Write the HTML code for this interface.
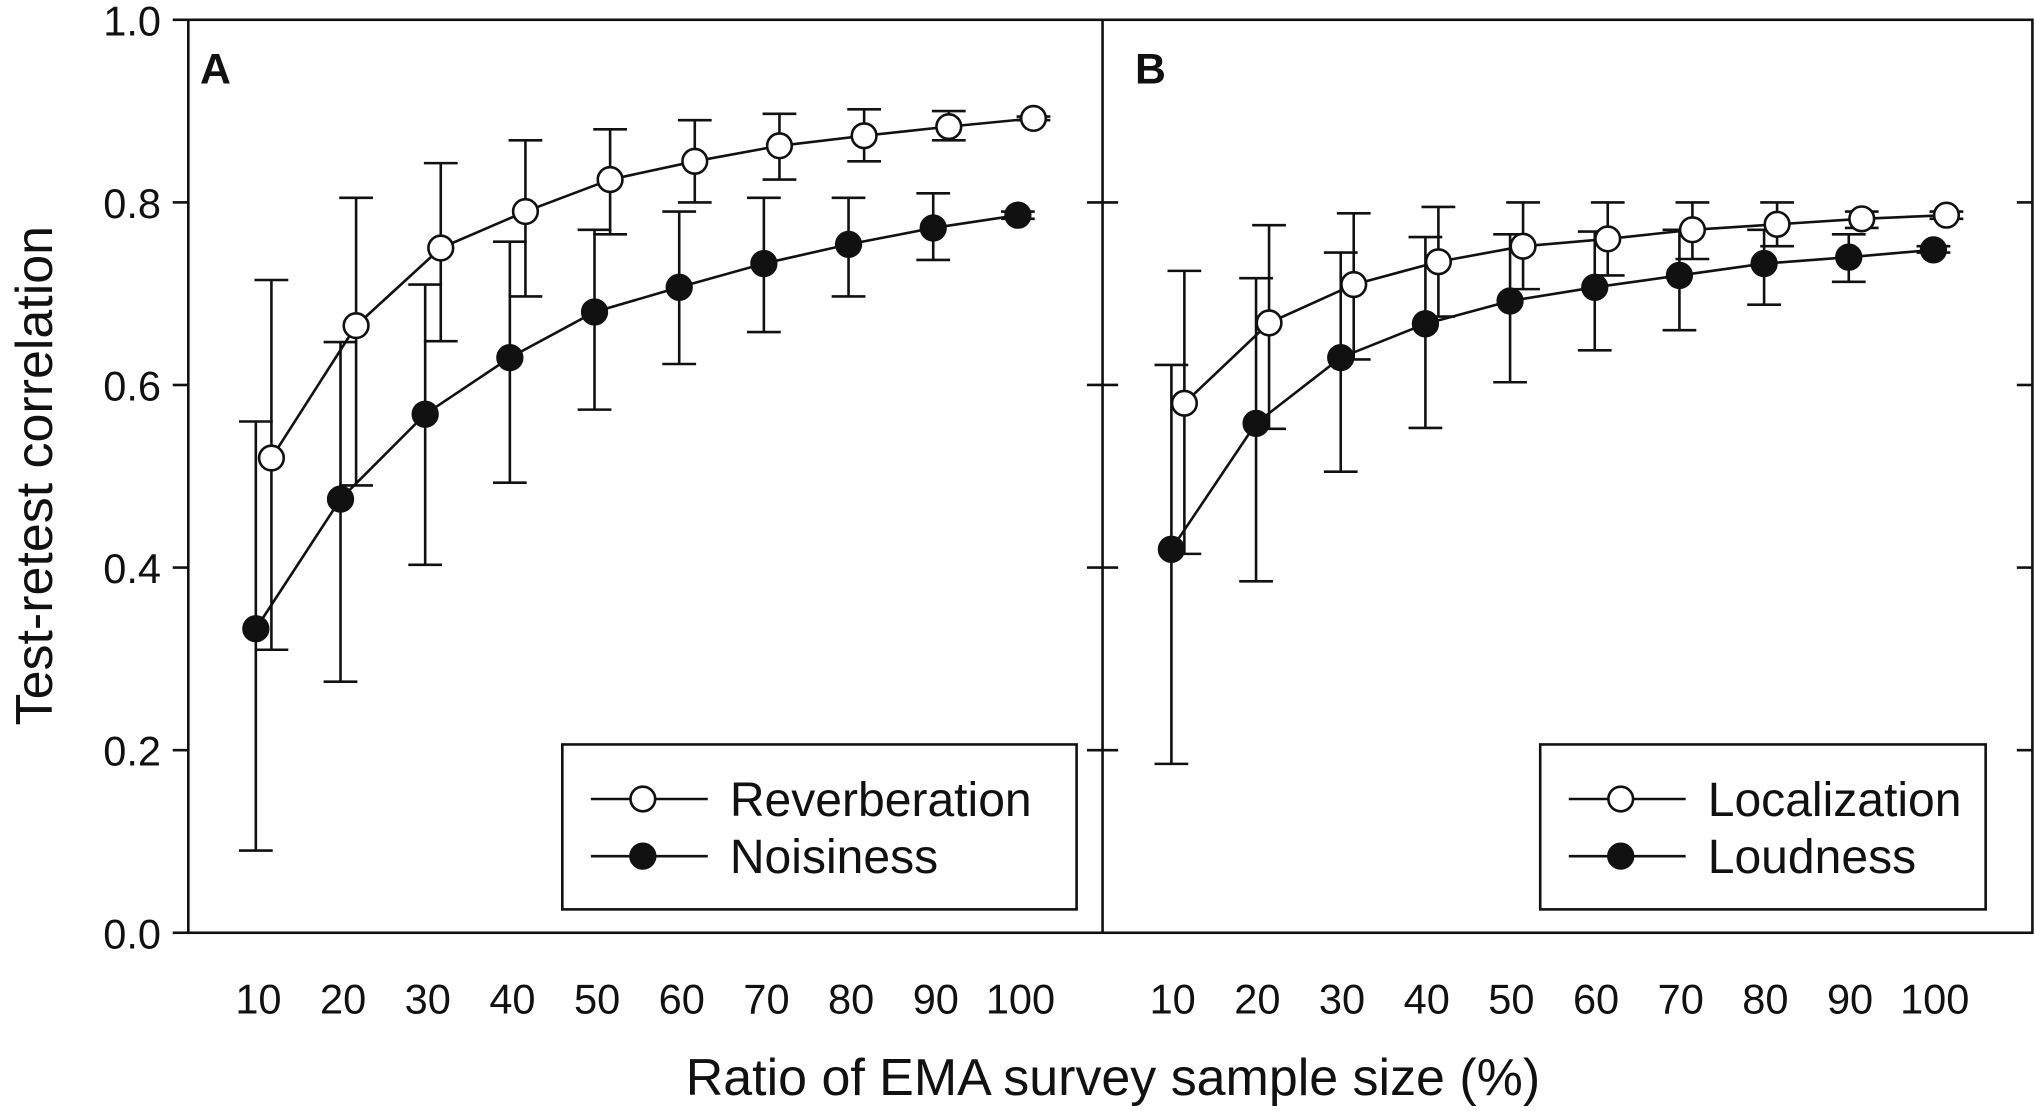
<!DOCTYPE html>
<html><head><meta charset="utf-8"><style>
html,body{margin:0;padding:0;background:#fff}
svg{display:block}
text{font-family:"Liberation Sans",Arial,sans-serif;fill:#111}
</style></head><body>
<svg id="chart" width="2035" height="1111" viewBox="0 0 1567 855" xmlns="http://www.w3.org/2000/svg">
<g id="root"></g>
</svg>
<script>
const categories=[10,20,30,40,50,60,70,80,90,100];
const yTicks=[0.0,0.2,0.4,0.6,0.8,1.0];
const reverbMean=[0.52,0.665,0.75,0.79,0.825,0.845,0.862,0.873,0.883,0.892];
const reverbHi=[0.715,0.805,0.843,0.868,0.88,0.89,0.897,0.902,0.9,0.894];
const reverbLo=[0.31,0.49,0.648,0.697,0.765,0.8,0.825,0.845,0.868,0.89];
const noiseMean=[0.333,0.475,0.568,0.63,0.68,0.707,0.733,0.754,0.772,0.786];
const noiseHi=[0.56,0.647,0.71,0.757,0.77,0.79,0.805,0.805,0.81,0.79];
const noiseLo=[0.09,0.275,0.403,0.493,0.573,0.623,0.658,0.697,0.737,0.782];
const locMean=[0.58,0.668,0.71,0.735,0.752,0.76,0.77,0.776,0.782,0.786];
const locHi=[0.725,0.775,0.788,0.795,0.8,0.8,0.8,0.8,0.79,0.79];
const locLo=[0.415,0.552,0.628,0.675,0.705,0.72,0.738,0.752,0.772,0.782];
const loudMean=[0.42,0.558,0.63,0.667,0.692,0.707,0.72,0.733,0.74,0.748];
const loudHi=[0.622,0.717,0.745,0.762,0.765,0.768,0.77,0.77,0.765,0.752];
const loudLo=[0.185,0.385,0.505,0.553,0.603,0.638,0.66,0.688,0.713,0.745];

const NS="http://www.w3.org/2000/svg";
const root=document.getElementById('root');
function el(tag,attrs,parent){const e=document.createElementNS(NS,tag);for(const k in attrs)e.setAttribute(k,attrs[k]);(parent||root).appendChild(e);return e;}
const Y0=718,Y1=15;
function yS(v){return Y0-(v)*(Y0-Y1);}
function xA(c){return 203+(c-10)/10*65.2;}
function xB(c){return 907+(c-10)/10*65.2;}

let f=el('rect',{x:145,y:15,width:1420,height:703,fill:'none',stroke:'#111','stroke-width':2});


let d=el('line',{x1:849,y1:15,x2:849,y2:718,stroke:'#111','stroke-width':2});



yTicks.forEach(v=>{
 const y=yS(v);
 let t=el('line',{x1:133,y1:y,x2:145,y2:y,stroke:'#111','stroke-width':2});
 
 
 if(v>0&&v<1){
  el('line',{x1:837,y1:y,x2:861,y2:y,stroke:'#111','stroke-width':2});
  el('line',{x1:1553,y1:y,x2:1565,y2:y,stroke:'#111','stroke-width':2});
 }
 let l=el('text',{x:124,y:y+12,'text-anchor':'end','font-size':32});
 l.textContent=v.toFixed(1);
 
 
});
categories.forEach(c=>{
 [xA,xB].forEach(fx=>{
  let l=el('text',{x:fx(c)-4,y:780,'text-anchor':'middle','font-size':32});
  l.textContent=c;
  
  
 });
});
let yt=el('text',{x:0,y:0,'text-anchor':'middle','font-size':40,transform:'translate(40,366) rotate(-90)'});
yt.textContent='Test-retest correlation';


let xt=el('text',{x:857,y:843,'text-anchor':'middle','font-size':40});
xt.textContent='Ratio of EMA survey sample size (%)';


let pa=el('text',{x:154,y:64,'font-size':33,'font-weight':'bold'});pa.textContent='A';


let pb=el('text',{x:874,y:64,'font-size':33,'font-weight':'bold'});pb.textContent='B';



function series(name,fx,off,mean,hi,lo,fill){
 const g=el('g',{});
 
 
 const pts=categories.map((c,i)=>[fx(c)+off,yS(mean[i])]);
 el('polyline',{points:pts.map(p=>p.join(',')).join(' '),fill:'none',stroke:'#111','stroke-width':2},g);
 categories.forEach((c,i)=>{
  const x=fx(c)+off;
  const eb=el('path',{d:`M${x},${yS(hi[i])}V${yS(lo[i])}M${x-13},${yS(hi[i])}h26M${x-13},${yS(lo[i])}h26`,stroke:'#111','stroke-width':2,fill:'none'},g);
  
  
 });
 categories.forEach((c,i)=>{
  const m=el('circle',{cx:fx(c)+off,cy:yS(mean[i]),r:9.5,fill:fill,stroke:'#111','stroke-width':2},g);
  
  
 });
}
series('noisiness',xA,-6,noiseMean,noiseHi,noiseLo,'#111');
series('reverberation',xA,6,reverbMean,reverbHi,reverbLo,'#fff');
series('loudness',xB,-5,loudMean,loudHi,loudLo,'#111');
series('localization',xB,5,locMean,locHi,locLo,'#fff');

function legend(name,x,w,l1,l2){
 const g=el('g',{});
 
 
 el('rect',{x:x,y:573,width:w,height:127,fill:'#fff',stroke:'#111','stroke-width':2},g);
 [[l1,615,'#fff'],[l2,659,'#111']].forEach(([t,y,fc])=>{
  const e=el('g',{},g);
  
  
  el('line',{x1:x+22,y1:y,x2:x+112,y2:y,stroke:'#111','stroke-width':2},e);
  el('circle',{cx:x+62,cy:y,r:9.5,fill:fc,stroke:'#111','stroke-width':2},e);
  const tx=el('text',{x:x+129,y:y+13,'font-size':37},e);tx.textContent=t;
 });
}
legend('legend-a',433,396,'Reverberation','Noisiness');
legend('legend-b',1186,343,'Localization','Loudness');
</script>
</body></html>
